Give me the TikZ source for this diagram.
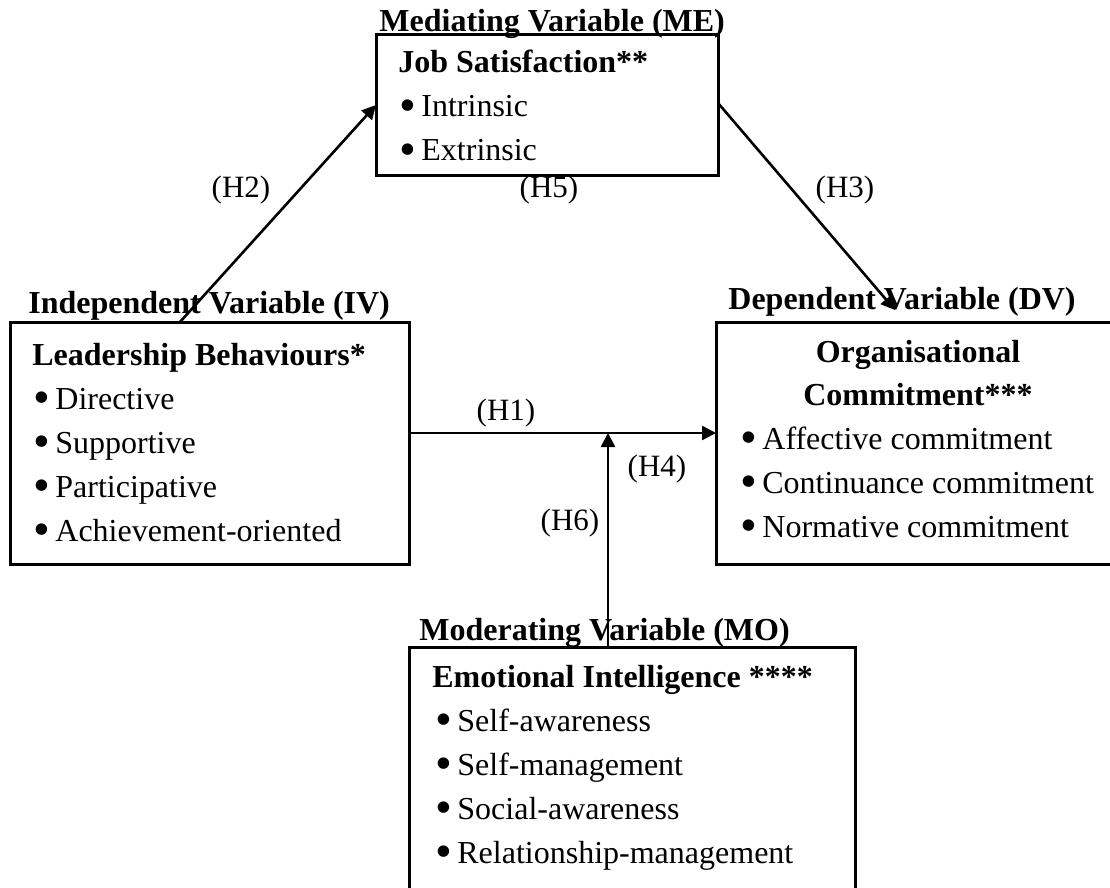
\documentclass[tikz,border=0pt]{standalone}
\usepackage{fontspec}
\usepackage{graphicx}
\setmainfont{Liberation Serif}
\usetikzlibrary{arrows.meta,calc}
\begin{document}
\begin{tikzpicture}[x=0.5pt,y=-0.5pt,
  box/.style={draw, line width=1.5pt, inner sep=0pt, outer sep=0pt, anchor=north west},
  txt/.style={anchor=base west, inner sep=0pt, font=\fontsize{16}{19}\selectfont},
  btxt/.style={anchor=base west, inner sep=0pt, font=\fontsize{16}{19}\selectfont\bfseries},
  ctxt/.style={anchor=base, inner sep=0pt, font=\fontsize{16}{19}\selectfont\bfseries},
  lbl/.style={anchor=base, inner sep=0pt, font=\fontsize{15.5}{19}\selectfont},
  arr/.style={line width=1.3pt, -{Triangle[length=7pt,width=7pt]}}]
\newcommand{\bul}[1]{\makebox[11pt][l]{\raisebox{-0.13em}{\scalebox{1.5}{\textbullet}}}#1}
\useasboundingbox (0,0) rectangle (1110,888);
\clip (0,0) rectangle (1110,888);
% boxes
\node[box, minimum width=171pt, minimum height=70.5pt] (me) at (376,35) {};
\node[box, minimum width=199.5pt, minimum height=121pt] (iv) at (10,322) {};
\node[box, minimum width=200pt, minimum height=121pt] (dv) at (716,322) {};
\node[box, minimum width=223pt, minimum height=130pt] (mo) at (409,647) {};
% titles
\node[btxt] (metitle) at (379,32) {Mediating Variable (ME)};
\node[btxt] (ivtitle) at (28,314) {Independent Variable (IV)};
\node[btxt] (dvtitle) at (728,309) {Dependent Variable (DV)};
\node[btxt] (motitle) at (419,640) {Moderating Variable (MO)};
% ME contents
\node[btxt] (me0) at (398,73) {Job Satisfaction**};
\node[txt] (me1) at (399,117) {\bul{Intrinsic}};
\node[txt] (me2) at (399,161) {\bul{Extrinsic}};
% IV contents
\node[btxt] (iv0) at (32,365) {Leadership Behaviours*};
\node[txt] (iv1) at (33,409) {\bul{Directive}};
\node[txt] (iv2) at (33,453) {\bul{Supportive}};
\node[txt] (iv3) at (33,497) {\bul{Participative}};
\node[txt] (iv4) at (33,541) {\bul{Achievement-oriented}};
% DV contents
\node[ctxt] (dv0) at (918,362) {Organisational};
\node[ctxt] (dv1) at (918,405) {Commitment***};
\node[txt] (dv2) at (740,449) {\bul{Affective commitment}};
\node[txt] (dv3) at (740,493) {\bul{Continuance commitment}};
\node[txt] (dv4) at (740,537) {\bul{Normative commitment}};
% MO contents
\node[btxt] (mo0) at (432,687) {Emotional Intelligence ****};
\node[txt] (mo1) at (435,731) {\bul{Self-awareness}};
\node[txt] (mo2) at (435,775) {\bul{Self-management}};
\node[txt] (mo3) at (435,819) {\bul{Social-awareness}};
\node[txt] (mo4) at (435,863) {\bul{Relationship-management}};
% connectors
\coordinate (h1a) at ($(iv.north east)+(0,111)$);
\coordinate (h1b) at ($(dv.north west)+(0,111)$);
\coordinate (h6b) at ($(iv.north east)+(199,111)$);
\draw[arr] ($(iv.north west)+(170,0)$) -- ($(me.north west)+(0,70)$);
\draw[arr] ($(me.north east)+(0,68)$) -- ($(dv.north west)+(179,-12)$);
\draw[arr] (h1a) -- (h1b);
\draw[arr] ($(mo.north west)+(199,0)$) -- (h6b);
% labels
\node[lbl] (h2) at (241,198) {(H2)};
\node[lbl] (h5) at (549,198) {(H5)};
\node[lbl] (h3) at (845,198) {(H3)};
\node[lbl] (h1) at (506,420) {(H1)};
\node[lbl] (h4) at (657,476) {(H4)};
\node[lbl] (h6) at (570,530) {(H6)};
\end{tikzpicture}
\end{document}
